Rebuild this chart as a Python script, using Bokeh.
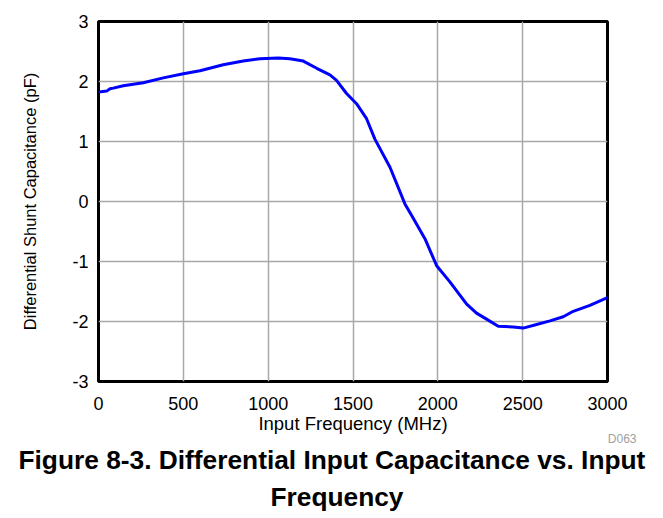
from bokeh.plotting import figure
from bokeh.models import Range1d, FixedTicker, Title
from bokeh.embed import file_html
from bokeh.resources import INLINE

freq_mhz = [0, 15, 48, 68, 87, 146, 264, 382, 500, 598, 735, 853, 951, 1060, 1128,
            1207, 1286, 1364, 1403, 1462, 1521, 1580, 1629, 1718, 1806, 1845, 1924,
            1993, 2071, 2170, 2228, 2287, 2356, 2444, 2503, 2582, 2661, 2739, 2798,
            2896, 3000]
cap_pf = [1.83, 1.83, 1.84, 1.88, 1.89, 1.93, 1.98, 2.06, 2.13, 2.18, 2.28, 2.34,
          2.38, 2.39, 2.38, 2.34, 2.22, 2.11, 2.02, 1.80, 1.63, 1.38, 1.04, 0.57,
          -0.04, -0.23, -0.62, -1.07, -1.34, -1.71, -1.86, -1.96, -2.08, -2.09,
          -2.11, -2.05, -1.99, -1.92, -1.83, -1.73, -1.60]
x_ticks = [0, 500, 1000, 1500, 2000, 2500, 3000]
y_ticks = [-3, -2, -1, 0, 1, 2, 3]

FONT = "Liberation Sans"

p = figure(output_backend="svg", toolbar_location=None,
           frame_width=509, frame_height=360,
           min_border_left=98, min_border_right=40,
           min_border_top=21, min_border_bottom=4,
           x_range=Range1d(0, 3000), y_range=Range1d(-3, 3))

p.line(freq_mhz, cap_pf, line_color="#0000ff", line_width=3)

p.outline_line_color = "black"
p.outline_line_width = 3
p.outline_line_alpha = 1

for ax in (p.xaxis[0], p.yaxis[0]):
    ax.axis_line_color = None
    ax.major_tick_line_color = None
    ax.minor_tick_line_color = None
    ax.major_label_text_font = FONT
    ax.major_label_text_font_size = "18px"
    ax.major_label_text_color = "black"
    ax.axis_label_text_font = FONT
    ax.axis_label_text_font_style = "normal"
    ax.axis_label_text_color = "black"

p.xaxis.axis_label_text_font_size = "18.5px"
p.yaxis.axis_label_text_font_size = "16.5px"
p.xaxis.ticker = FixedTicker(ticks=x_ticks)
p.yaxis.ticker = FixedTicker(ticks=y_ticks)
p.yaxis.major_label_overrides = {t: str(t) for t in y_ticks}
p.xaxis.axis_label = "Input Frequency (MHz)"
p.yaxis.axis_label = "Differential Shunt Capacitance (pF)"
p.xaxis.major_label_standoff = 9
p.xaxis.axis_label_standoff = 0
p.yaxis.major_label_standoff = 4
p.yaxis.axis_label_standoff = 30

p.grid.grid_line_color = "#a8a8a8"
p.grid.grid_line_width = 1.5

p.add_layout(Title(text="D063", align="right", offset=-29, standoff=-14,
                   text_font=FONT, text_font_size="12px", text_font_style="normal",
                   text_color="#a0a0a0"), "below")
p.add_layout(Title(text="Figure 8-3. Differential Input Capacitance vs. Input",
                   align="left", offset=-80, standoff=9,
                   text_font=FONT, text_font_size="26.3px", text_font_style="bold",
                   text_color="black"), "below")
p.add_layout(Title(text="Frequency", align="left", offset=172, standoff=0,
                   text_font=FONT, text_font_size="26.3px", text_font_style="bold",
                   text_color="black"), "below")

p.background_fill_color = "white"
p.border_fill_color = "white"

open("out.html", "w").write(file_html(p, INLINE))
